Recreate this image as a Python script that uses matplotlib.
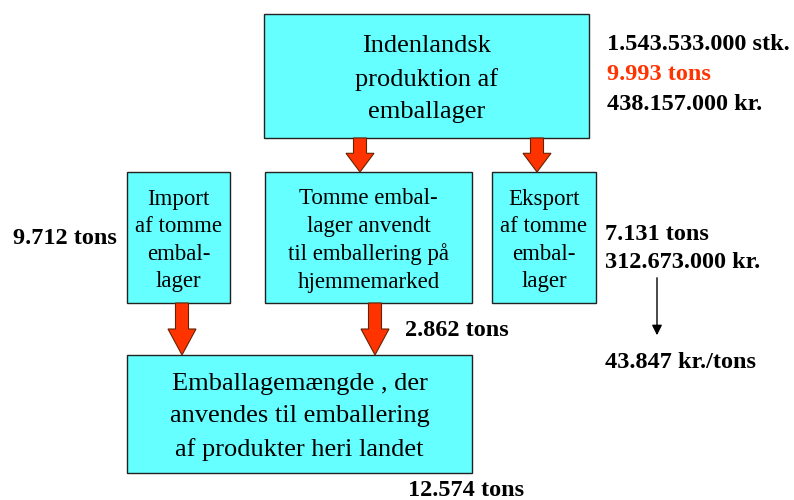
import matplotlib.pyplot as plt
from matplotlib.patches import Rectangle, FancyArrow

# boxes: label, (x0, y0, x1, y1) in pixel layout, font size
box_labels = [
    "Indenlandsk\nproduktion af\nemballager",
    "Import\naf tomme\nembal-\nlager",
    "Tomme embal-\nlager anvendt\ntil emballering på\nhjemmemarked",
    "Eksport\naf tomme\nembal-\nlager",
    "Emballagemængde , der\nanvendes til emballering\naf produkter heri landet",
]
box_pos = [
    (264, 14, 589, 138),
    (127, 172, 230, 303),
    (265, 172, 472, 303),
    (492, 172, 596, 303),
    (127, 355, 472, 473),
]
box_fs = [19, 16.5, 16.5, 16.5, 19]
box_ls = [1.6, 1.4, 1.4, 1.4, 1.6]

# value labels: text, x, y, colour
value_texts = ["1.543.533.000 stk.", "9.993 tons", "438.157.000 kr.",
               "9.712 tons", "7.131 tons", "312.673.000 kr.",
               "43.847 kr./tons", "2.862 tons", "12.574 tons"]
value_xy = [(607, 45), (607, 75), (607, 105),
            (13, 239), (605, 234), (605, 262),
            (605, 362), (405, 331), (408, 490)]
value_col = ["black", "#ff3300", "black",
             "black", "black", "black",
             "black", "black", "black"]

# red flow arrows: x, y_start, y_end
flow_arrows = [(360, 138, 172), (537, 138, 172), (182, 303, 355), (375, 303, 355)]

fig = plt.figure(figsize=(7.94, 5.0), dpi=100)
ax = fig.add_axes([0, 0, 1, 1])
ax.set_xlim(0, 794)
ax.set_ylim(500, 0)
ax.axis("off")

serif = ["Liberation Serif", "DejaVu Serif"]

for lab, (x0, y0, x1, y1), fs, ls in zip(box_labels, box_pos, box_fs, box_ls):
    ax.add_patch(Rectangle((x0, y0), x1 - x0, y1 - y0, facecolor="#66ffff",
                           edgecolor="#222222", linewidth=1.0))
    ax.text((x0 + x1) / 2, (y0 + y1) / 2 + 3, lab, ha="center", va="center",
            fontsize=fs, family=serif, linespacing=ls)

for x, ys, ye in flow_arrows:
    ax.add_patch(FancyArrow(x, ys, 0, ye - ys, width=13, head_width=28,
                            head_length=min(26, (ye - ys) * 0.55),
                            length_includes_head=True, facecolor="#ff3300",
                            edgecolor="#662200", linewidth=0.8))

for t, (x, y), c in zip(value_texts, value_xy, value_col):
    ax.text(x, y, t, ha="left", va="center", fontsize=17.5, fontweight="bold",
            family=serif, color=c)

# thin black arrow down to kr./tons
ax.annotate("", xy=(657, 338), xytext=(657, 275),
            arrowprops=dict(arrowstyle="-|>", color="black", lw=1,
                            mutation_scale=15))

fig.savefig("out.png", dpi=100)
